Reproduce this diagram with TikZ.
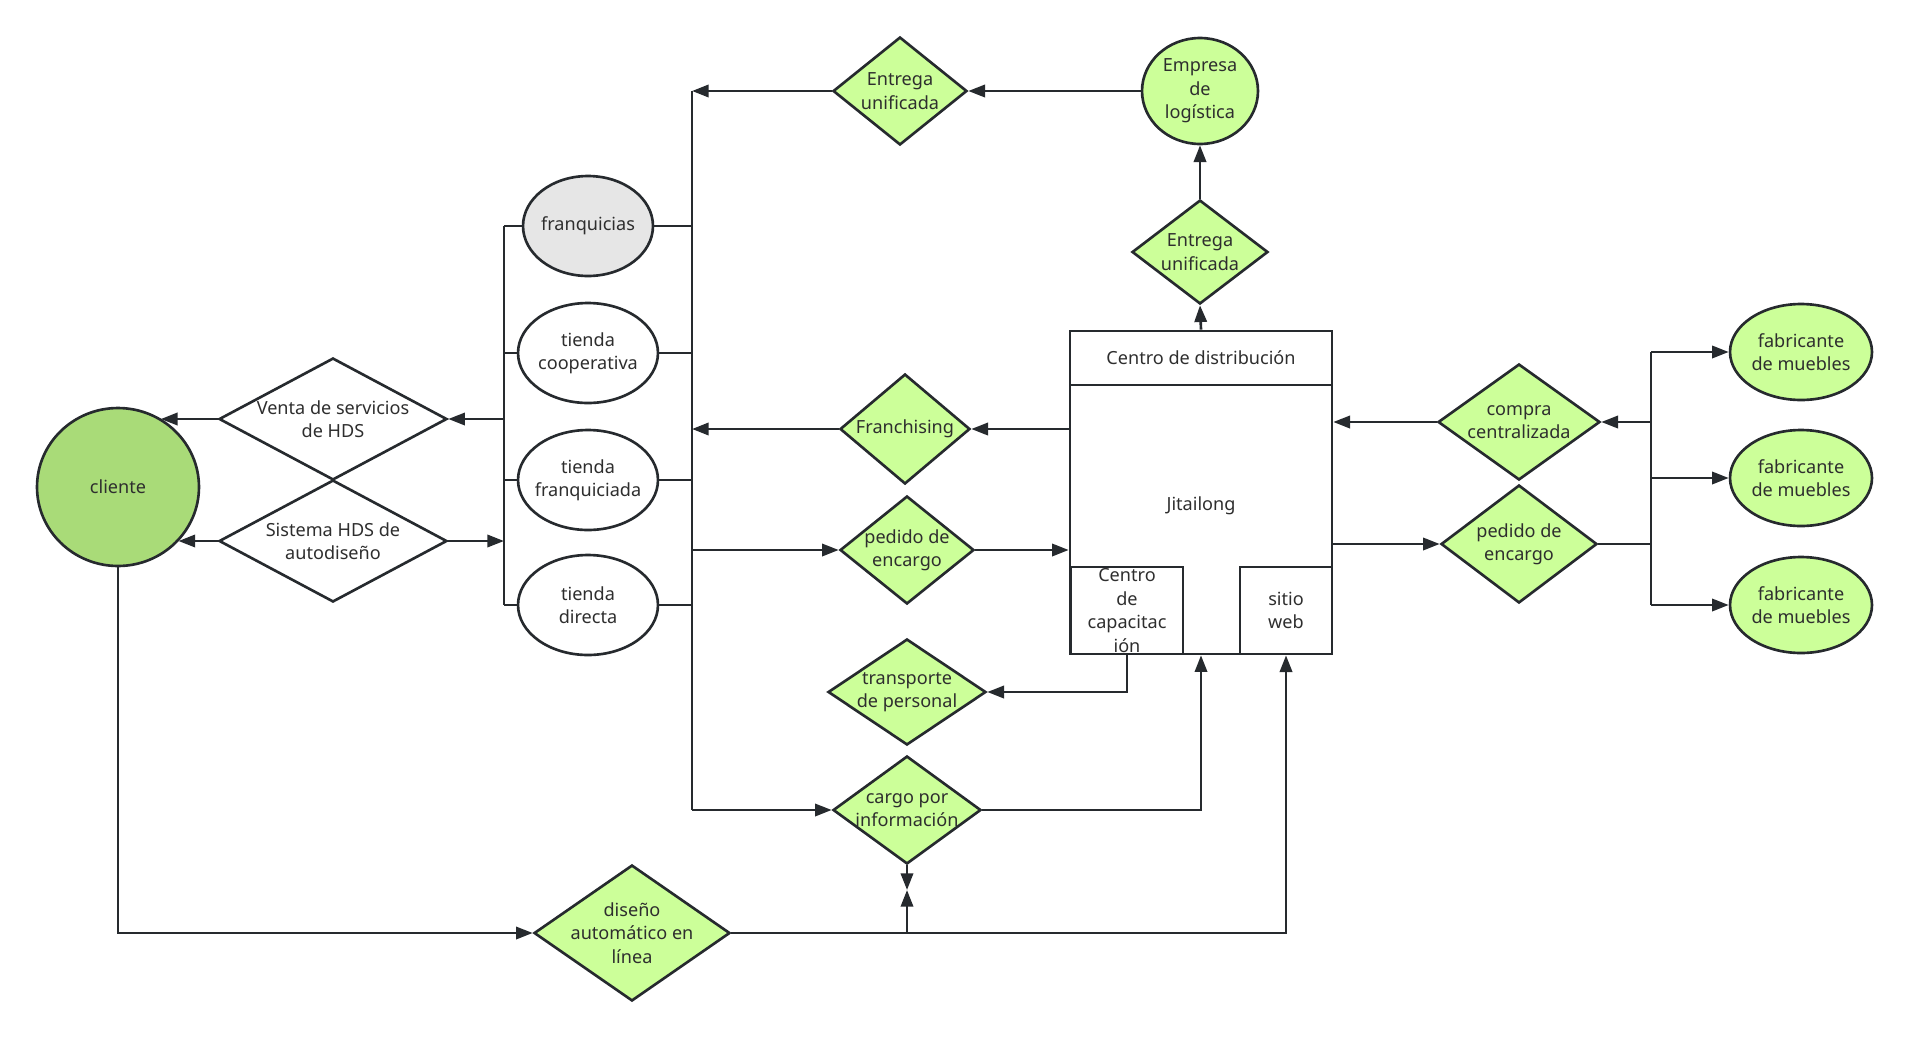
\documentclass[tikz,border=0pt]{standalone}
\usepackage{fontspec}
\setmainfont{Noto Sans}
\usetikzlibrary{shapes.geometric, arrows.meta}

\definecolor{verdeclaro}{HTML}{CCFF99}
\definecolor{verdecli}{HTML}{A9DB78}
\definecolor{grisclaro}{HTML}{E6E6E6}
\definecolor{linea}{HTML}{262A2E}
\definecolor{texto}{HTML}{2E2E2E}

\begin{document}
\begin{tikzpicture}[x=0.02cm, y=-0.02cm, color=linea, line width=1.5pt,
  every node/.style={font=\fontsize{10.3}{13.3}\selectfont, text=texto},
  txt/.style={align=center},
  rombo/.style={diamond, draw, fill=verdeclaro, inner sep=0pt},
  rombob/.style={diamond, draw, fill=white, inner sep=0pt},
  elipse/.style={ellipse, draw, fill=white, inner sep=0pt},
  caja/.style={rectangle, draw, inner sep=0pt},
  flecha/.style={-{Triangle[length=9.5pt,width=7pt]}}]

\useasboundingbox (0,0) rectangle (1909,1038);

% Cliente y ventas
\node[elipse, fill=verdecli, minimum width=3.24cm, minimum height=3.16cm,
  label={[txt]center:cliente}] (cliente) at (118,487) {};
\node[rombob, minimum width=4.56cm, minimum height=2.44cm,
  label={[txt]center:{Venta de servicios\\de HDS}}] (venta) at (333,419) {};
\node[rombob, minimum width=4.56cm, minimum height=2.44cm,
  label={[txt]center:{Sistema HDS de\\autodiseño}}] (sistema) at (333,541) {};

% Canales
\node[elipse, fill=grisclaro, minimum width=2.6cm, minimum height=2cm,
  label={[txt]center:franquicias}] (franq) at (588,226) {};
\node[elipse, minimum width=2.8cm, minimum height=2cm,
  label={[txt]center:{tienda\\cooperativa}}] (coop) at (588,353) {};
\node[elipse, minimum width=2.8cm, minimum height=2cm,
  label={[txt]center:{tienda\\franquiciada}}] (tfranq) at (588,480) {};
\node[elipse, minimum width=2.8cm, minimum height=2cm,
  label={[txt]center:{tienda\\directa}}] (directa) at (588,605) {};

\coordinate (lbx) at (504,0);
\coordinate (rbx) at (692,0);

% Centro
\node[rombo, minimum width=2.68cm, minimum height=2.16cm,
  label={[txt]center:{Entrega\\unificada}}] (ent1) at (900,91) {};
\node[elipse, fill=verdeclaro, minimum width=2.32cm, minimum height=2.12cm,
  label={[txt]center:{Empresa\\de\\logística}}] (emp) at (1200,91) {};
\node[rombo, minimum width=2.72cm, minimum height=2.08cm,
  label={[txt]center:{Entrega\\unificada}}] (ent2) at (1200,252) {};
\node[rombo, minimum width=2.6cm, minimum height=2.2cm,
  label={[txt]center:Franchising}] (franch) at (905,429) {};
\node[rombo, minimum width=2.68cm, minimum height=2.16cm,
  label={[txt]center:{pedido de\\encargo}}] (ped1) at (907,550) {};
\node[rombo, minimum width=3.16cm, minimum height=2.12cm,
  label={[txt]center:{transporte\\de personal}}] (transp) at (907,692) {};
\node[rombo, minimum width=2.96cm, minimum height=2.16cm,
  label={[txt]center:{cargo por\\información}}] (cargo) at (907,810) {};
\node[rombo, minimum width=3.92cm, minimum height=2.72cm,
  label={[txt]center:{diseño\\automático en\\línea}}] (diseno) at (632,933) {};

% Jitailong
\node[caja, minimum width=5.24cm, minimum height=6.46cm] (jit) at (1201,492.5) {};
\node[caja, minimum width=5.24cm, minimum height=1.08cm,
  label={[txt]center:Centro de distribución}] (cdist) at (1201,358) {};
\node[txt] (jittxt) at (1201,506) {Jitailong};
\node[caja, minimum width=2.24cm, minimum height=1.74cm,
  label={[txt]center:{Centro\\de\\capacitac\\ión}}] (capac) at (1127,610.5) {};
\node[caja, minimum width=1.84cm, minimum height=1.74cm,
  label={[txt]center:{sitio\\web}}] (web) at (1286,610.5) {};

% Proveedores
\node[rombo, minimum width=3.24cm, minimum height=2.32cm,
  label={[txt]center:{compra\\centralizada}}] (compra) at (1519,422) {};
\node[rombo, minimum width=3.12cm, minimum height=2.36cm,
  label={[txt]center:{pedido de\\encargo}}] (ped2) at (1519,544) {};
\node[elipse, fill=verdeclaro, minimum width=2.84cm, minimum height=1.92cm,
  label={[txt]center:{fabricante\\de muebles}}] (fab1) at (1801,352) {};
\node[elipse, fill=verdeclaro, minimum width=2.84cm, minimum height=1.92cm,
  label={[txt]center:{fabricante\\de muebles}}] (fab2) at (1801,478) {};
\node[elipse, fill=verdeclaro, minimum width=2.84cm, minimum height=1.92cm,
  label={[txt]center:{fabricante\\de muebles}}] (fab3) at (1801,605) {};

\coordinate (fbx) at (1651,0);
\coordinate (cmid) at (907,890);

% Conexiones izquierda
\draw[flecha] (venta.west) -- (venta.west -| cliente.58.8);
\draw[flecha] (sistema.west) -- (sistema.west -| cliente.-42.4);
\draw (franq.west -| lbx) -- (directa.west -| lbx);
\draw (franq.west) -- (franq.west -| lbx);
\draw (coop.west) -- (coop.west -| lbx);
\draw (tfranq.west) -- (tfranq.west -| lbx);
\draw (directa.west) -- (directa.west -| lbx);
\draw[flecha] (venta.east -| lbx) -- (venta.east);
\draw[flecha] (sistema.east) -- (sistema.east -| lbx);

% Bus derecho de canales
\draw (ent1.west -| rbx) -- (cargo.west -| rbx);
\draw (franq.east) -- (franq.east -| rbx);
\draw (coop.east) -- (coop.east -| rbx);
\draw (tfranq.east) -- (tfranq.east -| rbx);
\draw (directa.east) -- (directa.east -| rbx);
\draw[flecha] (ent1.west) -- (ent1.west -| rbx);
\draw[flecha] (franch.west) -- (franch.west -| rbx);
\draw[flecha] (ped1.west -| rbx) -- (ped1.west);
\draw[flecha] (cargo.west -| rbx) -- (cargo.west);

% Conexiones centro
\draw[flecha] (emp.west) -- (ent1.east);
\draw[flecha] (ent2.north) -- (emp.south);
\draw[flecha] (cdist.north) -- (ent2.south);
\draw[flecha] (franch.east -| jit.west) -- (franch.east);
\draw[flecha] (ped1.east) -- (ped1.east -| jit.west);
\draw[flecha] (capac.south) |- (transp.east);
\draw[flecha] (cargo.east) -| (jit.south);
\draw[flecha] (cliente.south) |- (diseno.west);
\draw[flecha] (diseno.east) -| (web.south);
\draw[flecha] (diseno.east -| cargo.south) -- (cmid);
\draw[flecha] (cargo.south) -- (cmid);

% Conexiones derecha
\draw[flecha] (compra.west) -- (compra.west -| jit.east);
\draw[flecha] (ped2.west -| jit.east) -- (ped2.west);
\draw (fab1.west -| fbx) -- (fab3.west -| fbx);
\draw[flecha] (fab1.west -| fbx) -- (fab1.west);
\draw[flecha] (fab2.west -| fbx) -- (fab2.west);
\draw[flecha] (fab3.west -| fbx) -- (fab3.west);
\draw[flecha] (compra.east -| fbx) -- (compra.east);
\draw (ped2.east) -- (ped2.east -| fbx);

\end{tikzpicture}
\end{document}
